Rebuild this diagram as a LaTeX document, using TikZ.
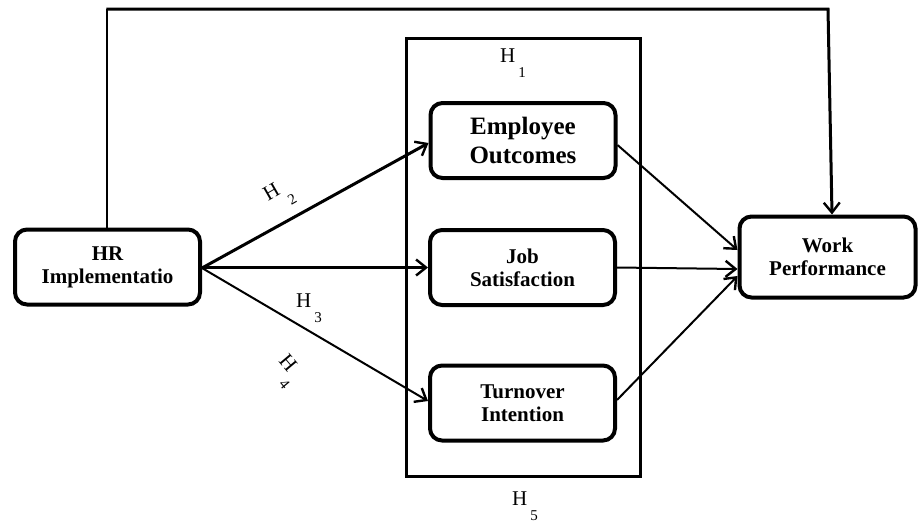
\documentclass[tikz,border=0pt]{standalone}
\usepackage{fontspec}
\setmainfont{Liberation Serif}
\usetikzlibrary{arrows.meta}
\newcommand{\hlab}[1]{H\hspace{3pt}\raisebox{-15pt}{\fontsize{15}{15}\selectfont #1}}
\begin{document}
\begin{tikzpicture}[x=1pt,y=-1pt,
  box/.style={draw, line width=4pt, rounded corners=12pt, align=center,
    minimum width=185pt, minimum height=75pt, inner sep=2pt,
    font=\fontsize{21}{23}\selectfont\bfseries},
  bigtext/.style={font=\fontsize{25}{29}\selectfont\bfseries},
  frame/.style={draw, line width=3pt},
  tip/.style={-{Straight Barb[length=10pt,width=16pt,line width=2.4pt]}},
  thickarrow/.style={tip, line width=3pt},
  thinarrow/.style={tip, line width=2pt},
  hl/.style={inner sep=0pt, anchor=base west, font=\fontsize{21}{21}\selectfont}
]
\useasboundingbox (0,0) rectangle (920,523);
% mediator frame
\node[frame, minimum width=234pt, minimum height=438pt, inner sep=0pt] (fr) at (523.5,257.5) {};
% nodes
\node[box] (hr) at (107.5,267) {HR\\Implementatio};
\node[box, bigtext] (eo) at (523,140.5) {Employee\\Outcomes};
\node[box] (js) at (522.5,267.5) {Job\\Satisfaction};
\node[box] (ti) at (522.5,403) {Turnover\\Intention};
\node[box, minimum width=176pt, minimum height=81pt] (wp) at (827.5,257) {Work\\Performance};
% top connector
\coordinate (c1) at (107,9);
\coordinate (c2) at (828,9);
\draw[line width=1.5pt] (hr.north -| c1) -- (c1);
\draw[line width=3pt, line join=miter, tip] ([xshift=-0.75pt]c1) -- (c2) -- (wp.north -| 832,0);
% arrows from HR
\draw[thickarrow] ([yshift=-1pt]hr.east) -- ([yshift=-2.5pt]eo.west);
\draw[thickarrow] ([yshift=-0.5pt]hr.east) -- (js.west);
\draw[thinarrow] ([yshift=-1pt]hr.east) -- ([yshift=2pt]ti.west);
% arrows to WP
\draw[thinarrow] ([yshift=-4.5pt]eo.east) -- ([yshift=7pt]wp.west);
\draw[thinarrow] (js.east) -- ([yshift=-12pt]wp.west);
\draw[thinarrow] ([yshift=3pt]ti.east) -- ([yshift=-19pt]wp.west);
% labels
\node[hl] (h1) at (500,62) {\hlab{1}};
\node[hl, rotate=30] (h2) at (268,202) {\hlab{2}};
\node[hl] (h3) at (296,307) {\hlab{3}};
\node[hl, rotate=-50] (h4) at (278,361) {\hlab{4}};
\node[hl] (h5) at (512,505) {\hlab{5}};
\end{tikzpicture}
\end{document}
